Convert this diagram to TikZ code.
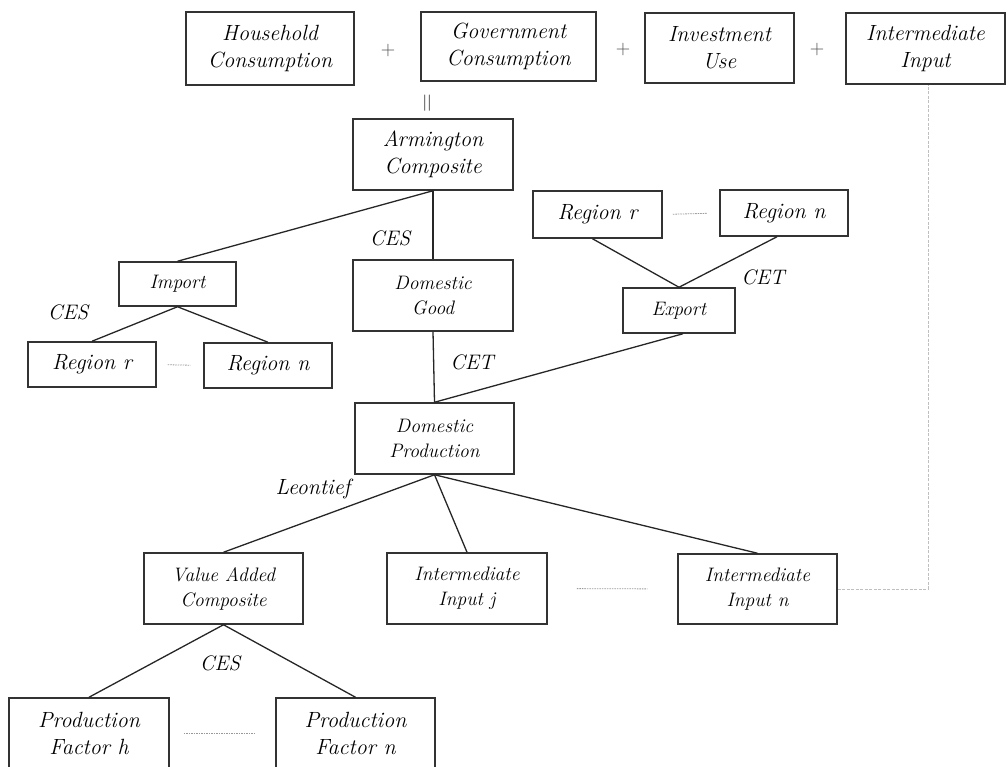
\documentclass[tikz,border=0pt]{standalone}
\usepackage{fontspec}
\begin{document}
\begin{tikzpicture}[x=1pt,y=1pt]
	\tikzstyle{every node}+=[inner sep=0pt, text=black]
	\tikzstyle{blk}=[draw=black!80, line width=1.5pt, minimum height=71, align=center, font=\fontsize{22}{27}\selectfont\itshape]
	\tikzstyle{sblk}=[blk, font=\fontsize{19.5}{25}\selectfont\itshape]
	\tikzstyle{lnk}=[draw=black!85, line width=1.3pt]
	\tikzstyle{dotln}=[draw=black!40, line width=0.8pt, dash pattern=on 1.5pt off 1pt]
	\tikzstyle{dashln}=[draw=black!25, line width=1pt, dash pattern=on 3pt off 1.5pt]
	\tikzstyle{lbl}=[font=\fontsize{21}{25}\selectfont\itshape]
	\tikzstyle{op}=[font=\fontsize{20}{22}\selectfont, text=black!70]
	\useasboundingbox (0,0) rectangle (1008,-767);
	\node [blk, minimum width=168, minimum height=73] (hh) at (270,-48.5) {Household\\Consumption};
	\node [op] (p1) at (388,-51) {+};
	\node [blk, minimum width=175, minimum height=69] (gov) at (508.5,-46.5) {Government\\Consumption};
	\node [op] (p2) at (623,-50) {+};
	\node [blk, minimum width=149, minimum height=70] (inv) at (719.5,-48) {Investment\\Use};
	\node [op] (p3) at (817,-50) {+};
	\node [blk, minimum width=159] (int) at (925.5,-48.5) {Intermediate\\Input};
	\node [op, rotate=90, font=\fontsize{26}{28}\selectfont] (eq) at (429,-103) {=};
	\node [blk, minimum width=160] (arm) at (433,-154.5) {Armington\\Composite};
	\node [sblk, minimum width=160] (dg) at (433,-295.5) {Domestic\\Good};
	\node [sblk, minimum width=117, minimum height=44] (imp) at (177.5,-284) {Import};
	\node [blk, minimum width=128, minimum height=45] (rri) at (92,-364.5) {Region \textit{r}};
	\node [blk, minimum width=128, minimum height=45] (rni) at (268,-365.5) {Region \textit{n}};
	\node [blk, minimum width=129, minimum height=47] (rre) at (597.5,-214.5) {Region \textit{r}};
	\node [blk, minimum width=128, minimum height=46] (rne) at (784,-213) {Region \textit{n}};
	\node [sblk, minimum width=112, minimum height=45] (exp) at (679,-310.5) {Export};
	\node [sblk, minimum width=159] (dp) at (434.5,-438.5) {Domestic\\Production};
	\node [sblk, minimum width=159] (va) at (223.5,-588.5) {Value Added\\Composite};
	\node [sblk, minimum width=160] (ij) at (467,-588.5) {Intermediate\\Input \textit{j}};
	\node [sblk, minimum width=159, minimum height=70] (in) at (757.5,-589) {Intermediate\\Input \textit{n}};
	\node [blk, minimum width=160] (pfh) at (89,-733.5) {Production\\Factor \textit{h}};
	\node [blk, minimum width=159] (pfn) at (355.5,-733.5) {Production\\Factor \textit{n}};
	\node [lbl] (ces1) at (390,-238) {CES};
	\node [lbl] (ces2) at (68,-312) {CES};
	\node [lbl] (cet1) at (763,-277) {CET};
	\node [lbl] (cet2) at (472,-362) {CET};
	\node [lbl, font=\fontsize{22}{26}\selectfont\itshape] (leo) at (313,-489) {Leontief};
	\node [lbl] (ces3) at (220,-663) {CES};
	\draw [lnk] (arm.south) -- (imp.north);
	\draw [lnk] (arm.south) -- (dg.north);
	\draw [lnk] (imp.south) -- (rri.north);
	\draw [lnk] (imp.south) -- (rni.north);
	\draw [lnk] ([xshift=-5]rre.south) -- (exp.north);
	\draw [lnk] ([xshift=-7]rne.south) -- (exp.north);
	\draw [lnk] (dg.south) -- (dp.north);
	\draw [lnk] ([xshift=4]exp.south) -- (dp.north);
	\draw [lnk] (dp.south) -- (va.north);
	\draw [lnk] (dp.south) -- (ij.north);
	\draw [lnk] (dp.south) -- (in.north);
	\draw [lnk] (va.south) -- (pfh.north);
	\draw [lnk] (va.south) -- (pfn.north);
	\draw [dotln, shorten <=11pt, shorten >=13pt] (rri.east) -- (rni.west);
	\draw [dotln, shorten <=10pt, shorten >=12pt] (rre.east) -- (rne.west);
	\draw [dotln, shorten <=29pt, shorten >=30pt] (ij.east) -- (in.west);
	\draw [dotln, shorten <=14pt, shorten >=21pt] (pfh.east) -- (pfn.west);
	\draw [dashln] (in.east) -| ([xshift=2.5]int.south);
\end{tikzpicture}
\end{document}
